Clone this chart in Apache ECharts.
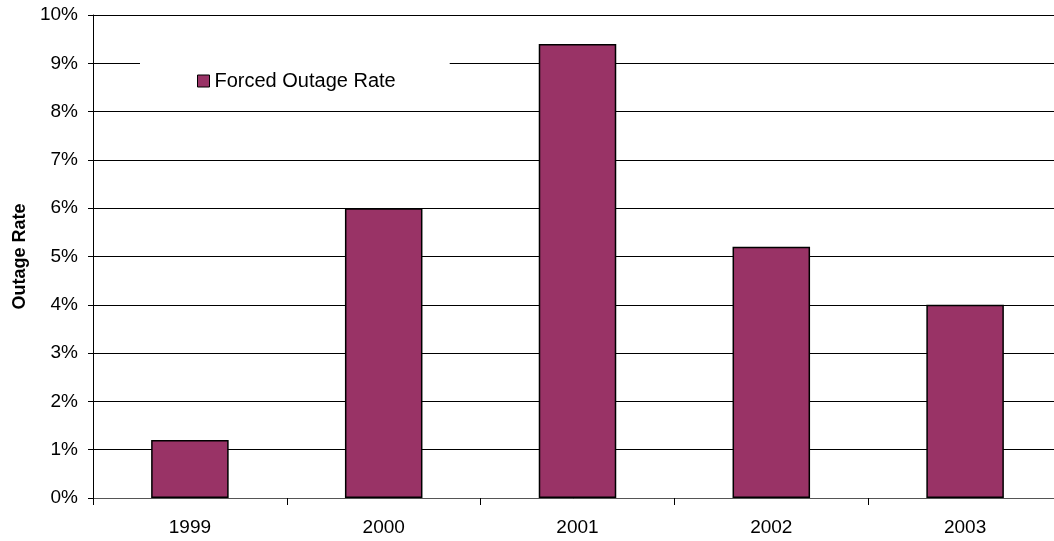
<!DOCTYPE html>
<html>
<head>
<meta charset="utf-8">
<script src="https://cdn.jsdelivr.net/npm/echarts@6/dist/echarts.min.js"></script>
<style>
  html, body { margin: 0; padding: 0; background: #fff; }
  #chart { width: 1054px; height: 541px; }
</style>
</head>
<body>
<div id="chart"></div>
<script>
// data
const years = ['1999', '2000', '2001', '2002', '2003']
const forcedOutageRate = [1.2, 6.0, 9.4, 5.2, 4.0]
const seriesName = 'Forced Outage Rate'

const chart = echarts.init(document.getElementById('chart'))
chart.setOption({
  animation: false,
  textStyle: { fontFamily: 'Liberation Sans, Arial, sans-serif' },
  // plot area runs a little past the right edge, like the original
  grid: { left: 93, width: 969, top: 15, bottom: 43, containLabel: false, outerBoundsMode: 'none' },
  legend: {
    left: 140,
    top: 58,
    backgroundColor: '#fff',
    padding: [13, 54, 18, 57],
    itemWidth: 12,
    itemHeight: 12,
    textStyle: { fontSize: 20, color: '#000', fontFamily: 'Liberation Sans, Arial, sans-serif' },
    data: [{ name: seriesName, icon: 'rect', itemStyle: { borderColor: '#000', borderWidth: 1 } }]
  },
  xAxis: {
    type: 'category',
    data: years,
    axisLine: { lineStyle: { color: '#555', width: 1 } },
    axisTick: { show: true, length: 7, lineStyle: { color: '#000' } },
    axisLabel: { fontSize: 19, color: '#000', margin: 20 }
  },
  yAxis: {
    type: 'value',
    min: 0,
    max: 10,
    interval: 1,
    name: 'Outage Rate',
    nameLocation: 'middle',
    nameGap: 64,
    nameTextStyle: { fontSize: 18, fontWeight: 'bold', color: '#000' },
    axisLine: { show: true, lineStyle: { color: '#000', width: 1 } },
    axisTick: { show: true, length: 5, lineStyle: { color: '#000' } },
    axisLabel: { fontSize: 19, color: '#000', margin: 15, formatter: '{value}%' },
    splitLine: { lineStyle: { color: '#000', width: 1 } }
  },
  series: [{
    name: seriesName,
    type: 'bar',
    data: forcedOutageRate,
    barWidth: '40%',
    itemStyle: { color: '#993366', borderColor: '#000', borderWidth: 1.5 }
  }]
})
</script>
</body>
</html>
